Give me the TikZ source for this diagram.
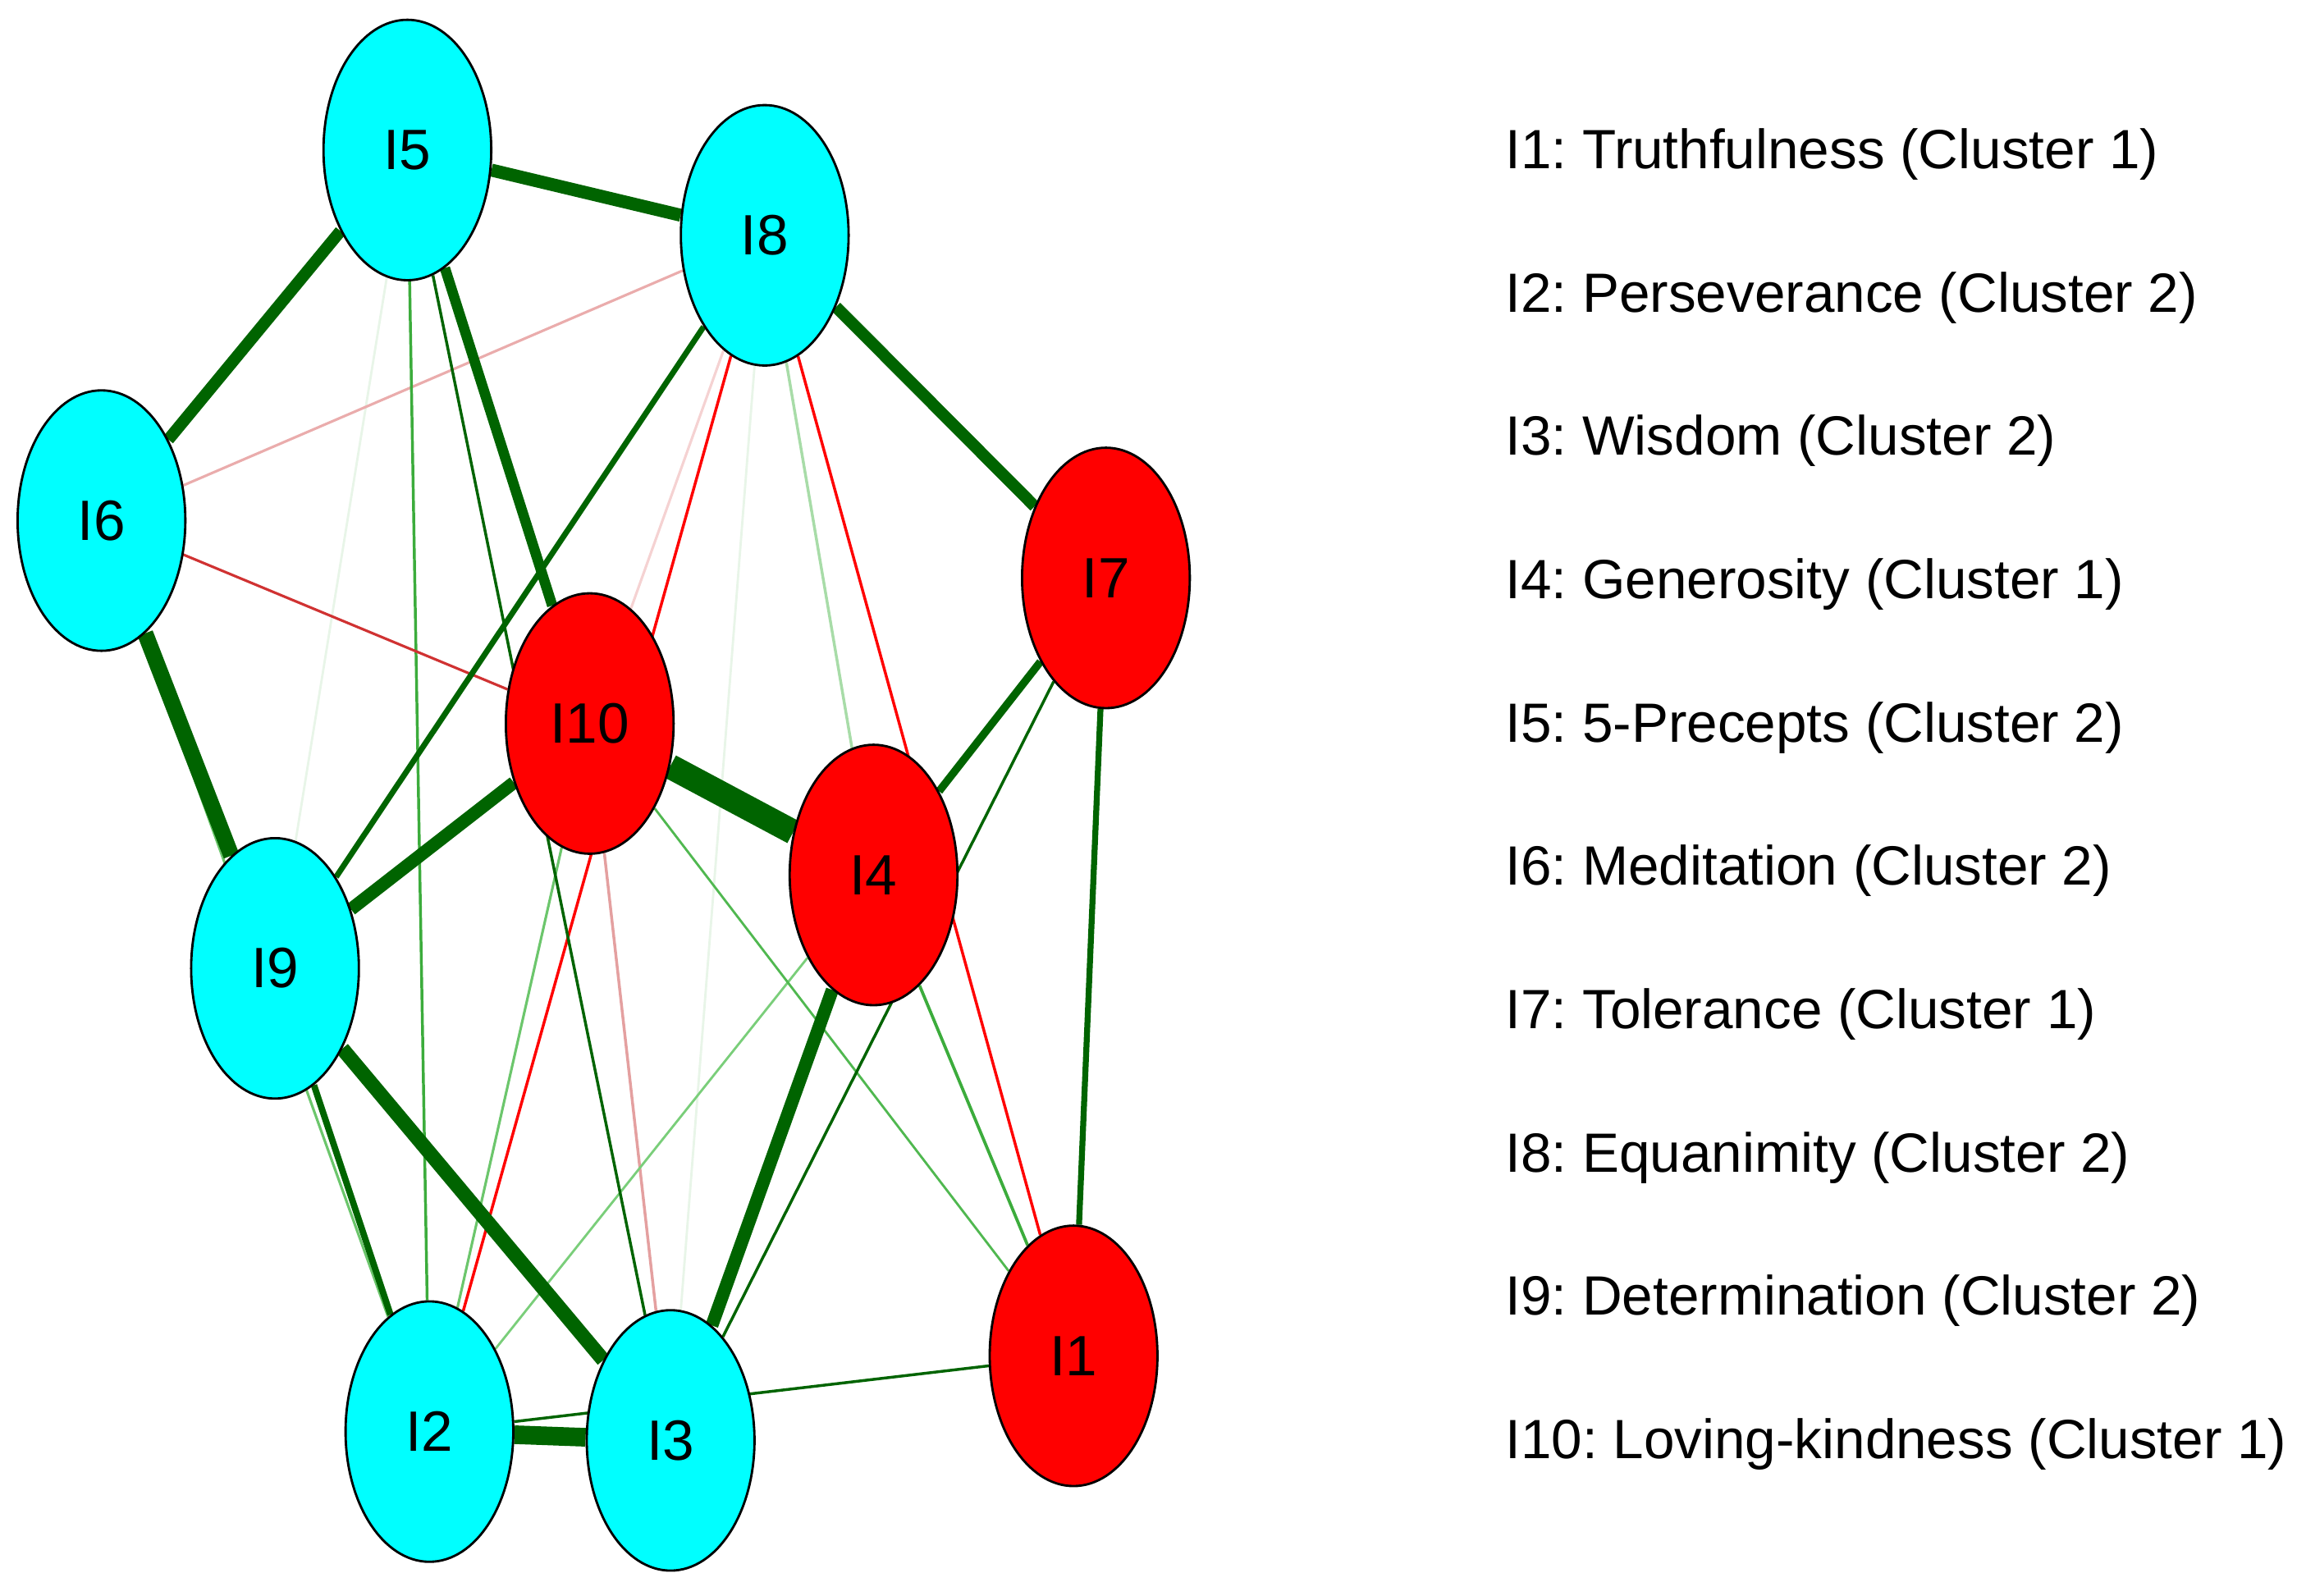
\documentclass[tikz,border=0pt]{standalone}
\usepackage{fontspec}
\setmainfont{Liberation Sans}
\usetikzlibrary{shapes.geometric,backgrounds}
\definecolor{cy}{RGB}{0,255,255}
\definecolor{rd}{RGB}{255,0,0}
\definecolor{dg}{RGB}{0,100,0}
\definecolor{mg}{RGB}{60,172,60}
\definecolor{mg2}{RGB}{80,184,80}
\definecolor{lg}{RGB}{108,198,108}
\definecolor{lg2}{RGB}{122,206,122}
\definecolor{vlg}{RGB}{168,220,168}
\definecolor{fg}{RGB}{232,245,232}
\definecolor{drd}{RGB}{208,50,50}
\definecolor{pk}{RGB}{234,172,172}
\definecolor{pk2}{RGB}{228,160,160}
\definecolor{ppk}{RGB}{245,210,210}
\frenchspacing
\begin{document}
\begin{tikzpicture}[x=0.01cm,y=-0.01cm,
  vnode/.style={ellipse,draw=black,line width=0.45pt,minimum width=1.14cm,minimum height=1.77cm,inner sep=0pt,font=\fontsize{11}{13}\selectfont},
  cltwo/.style={vnode,fill=cy},
  clone/.style={vnode,fill=rd},
  leg/.style={anchor=base west,inner sep=0pt,font=\fontsize{10.7}{13}\selectfont},
  edge/.style={line width=#1}]
\useasboundingbox (0,0) rectangle (1568,1085.3);
% nodes
\node[clone] (I1) at (730,922) {I1};
\node[cltwo] (I2) at (292,973.5) {I2};
\node[cltwo] (I3) at (456,979.5) {I3};
\node[clone] (I4) at (594,595) {I4};
\node[cltwo] (I5) at (277,102) {I5};
\node[cltwo] (I6) at (69,354) {I6};
\node[clone] (I7) at (752,393) {I7};
\node[cltwo] (I8) at (520,160) {I8};
\node[cltwo] (I9) at (187,658.5) {I9};
\node[clone] (I10) at (401,492) {I10};
% edges
\begin{scope}[on background layer]
\draw[fg,edge=0.45pt] (I5) -- (I9);
\draw[fg,edge=0.45pt] (I8) -- (I3);
\draw[ppk,edge=0.5pt] (I8) -- (I10);
\draw[pk,edge=0.5pt] (I6) -- (I8);
\draw[pk2,edge=0.55pt] (I10) -- (I3);
\draw[vlg,edge=0.55pt] (I8) -- (I4);
\draw[lg2,edge=0.45pt] (I4) -- (I2);
\draw[lg,edge=0.5pt] (I6) -- (I2);
\draw[lg,edge=0.5pt] (I10) -- (I2);
\draw[mg2,edge=0.45pt] (I10) -- (I1);
\draw[mg,edge=0.55pt] (I5) -- (I2);
\draw[mg,edge=0.6pt] (I4) -- (I1);
\draw[drd,edge=0.5pt] (I6) -- (I10);
\draw[rd,edge=0.55pt] (I8) -- (I2);
\draw[rd,edge=0.55pt] (I8) -- (I1);
\draw[dg,edge=0.55pt] (I5) -- (I3);
\draw[dg,edge=0.55pt] (I7) -- (I3);
\draw[dg,edge=0.55pt] (I2) -- (I1);
\draw[dg,edge=1.1pt] (I8) -- (I9);
\draw[dg,edge=1.25pt] (I9) -- (I2);
\draw[dg,edge=1.15pt] (I7) -- (I1);
\draw[dg,edge=1.5pt] (I7) -- (I4);
\draw[dg,edge=2.0pt] (I5) -- (I10);
\draw[dg,edge=2.3pt] (I5) -- (I6);
\draw[dg,edge=2.3pt] (I8) -- (I7);
\draw[dg,edge=2.5pt] (I5) -- (I8);
\draw[dg,edge=2.5pt] (I10) -- (I9);
\draw[dg,edge=2.5pt] (I4) -- (I3);
\draw[dg,edge=2.8pt] (I9) -- (I3);
\draw[dg,edge=3.1pt] (I6) -- (I9);
\draw[dg,edge=3.6pt] (I2) -- (I3);
\draw[dg,edge=4.8pt] (I10) -- (I4);
\end{scope}
% legend
\node[leg] (l1) at (1023,114.7) {I1: Truthfulness (Cluster 1)};
\node[leg] (l2) at (1023,212.15) {I2: Perseverance (Cluster 2)};
\node[leg] (l3) at (1023,309.6) {I3: Wisdom (Cluster 2)};
\node[leg] (l4) at (1023,407.05) {I4: Generosity (Cluster 1)};
\node[leg] (l5) at (1023,504.5) {I5: 5-Precepts (Cluster 2)};
\node[leg] (l6) at (1023,601.95) {I6: Meditation (Cluster 2)};
\node[leg] (l7) at (1023,699.4) {I7: Tolerance (Cluster 1)};
\node[leg] (l8) at (1023,796.85) {I8: Equanimity (Cluster 2)};
\node[leg] (l9) at (1023,894.3) {I9: Determination (Cluster 2)};
\node[leg] (l10) at (1023,991.75) {I10: Loving-kindness (Cluster 1)};
\end{tikzpicture}
\end{document}
